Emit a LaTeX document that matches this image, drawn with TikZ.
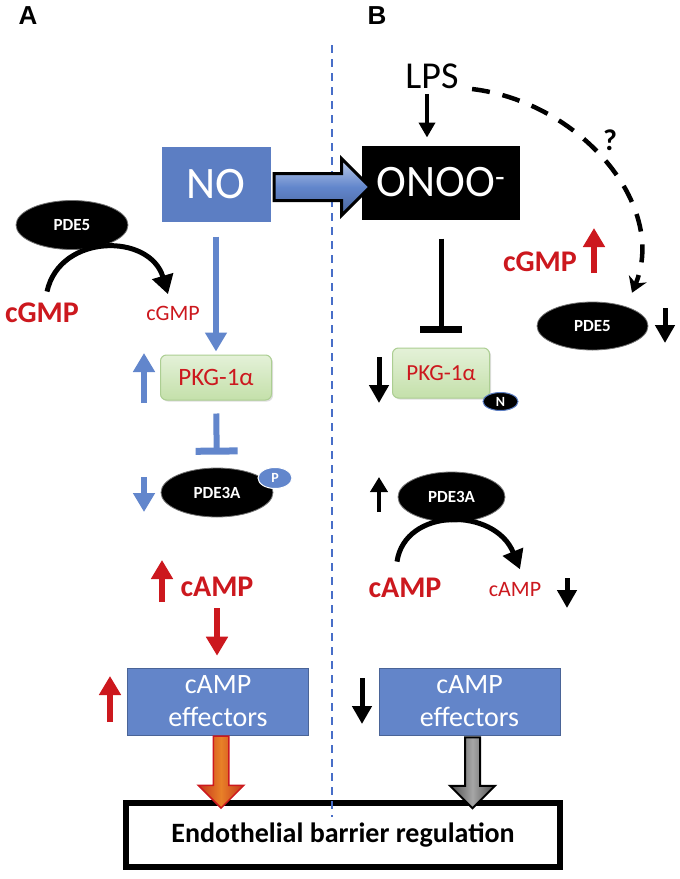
\documentclass[tikz,border=0pt]{standalone}
\usepackage{fontspec}
\setmainfont{Carlito}
\newfontfamily\panelfont{Liberation Sans}
\usetikzlibrary{shapes.geometric, shapes.arrows, arrows.meta, positioning, calc, shadows}
\definecolor{noblue}{RGB}{92,126,195}
\definecolor{arrowblue}{RGB}{98,134,204}
\definecolor{sigred}{RGB}{204,24,30}
\definecolor{pkgtop}{RGB}{228,241,216}
\definecolor{pkgbot}{RGB}{196,224,170}
\definecolor{pkgedge}{RGB}{172,206,146}
\definecolor{effblue}{RGB}{99,133,201}
\definecolor{divblue}{RGB}{72,110,200}
\definecolor{flowedge}{RGB}{196,52,28}
\definecolor{floworange}{RGB}{232,128,40}
\tikzset{
    panel/.style={font=\panelfont\bfseries\fontsize{26}{30}\selectfont},
    agent/.style={rectangle, draw=white, line width=3pt, text=white, inner sep=0pt, font=\fontsize{45}{50}\selectfont, drop shadow={opacity=0.3, shadow xshift=1.5pt, shadow yshift=-1.5pt}},
    trigger/.style={font=\fontsize{38}{42}\selectfont},
    query/.style={font=\bfseries\fontsize{30}{34}\selectfont},
    enzyme/.style={ellipse, draw=black!55, line width=0.8pt, fill=black, text=white, inner sep=0pt, font=\bfseries\fontsize{17}{20}\selectfont},
    kinase/.style={rectangle, rounded corners=6pt, draw=pkgedge, line width=1pt, top color=pkgtop, bottom color=pkgbot, text=sigred, inner sep=0pt, drop shadow={opacity=0.25, shadow xshift=1.5pt, shadow yshift=-1.5pt}},
    tag/.style={ellipse, line width=1pt, text=white, inner sep=0pt, font=\bfseries\fontsize{14}{16}\selectfont},
    cyclic big/.style={text=sigred, font=\bfseries\fontsize{30}{34}\selectfont},
    cyclic small/.style={text=sigred, font=\fontsize{22}{26}\selectfont},
    effector/.style={rectangle, draw=effblue!75!black, line width=0.6pt, fill=effblue, text=white, align=center, font=\fontsize{28}{33}\selectfont, minimum width=181pt, minimum height=67pt},
    outcome/.style={rectangle, draw=black, line width=6pt, fill=white, font=\bfseries\fontsize{28}{32}\selectfont, minimum width=434pt, minimum height=64pt, drop shadow={opacity=0.35, shadow xshift=3pt, shadow yshift=-3pt}},
    block flow/.style={single arrow, single arrow tip angle=90, anchor=tail},
    blue arrow/.style={draw=arrowblue, line width=6pt, -{Triangle[width=21pt, length=19pt]}},
    red arrow/.style={draw=sigred, line width=6pt, -{Triangle[width=21pt, length=19pt]}},
    black arrow/.style={draw=black, line width=5pt, -{Triangle[width=19pt, length=18pt]}},
    blue inhibit/.style={draw=arrowblue, line width=6pt, -{Bar[width=42pt, line width=7pt]}},
    black inhibit/.style={draw=black, line width=5pt, -{Bar[width=42pt, line width=7pt]}},
    turnover/.style={draw=black, line width=5pt, -{Triangle[width=21pt, length=19pt]}},
    maybe/.style={draw=black, line width=4.5pt, dash pattern=on 18pt off 13pt, -{Stealth[width=19pt, length=15pt]}},
    divider/.style={draw=divblue, line width=1.2pt, dash pattern=on 8pt off 6pt}
}

\begin{document}
\begin{tikzpicture}[x=1pt, y=-1pt]
    \useasboundingbox[fill=white] (0,0) rectangle (680,879);

    % Panels
    \node[panel] (pa) at (28,16) {A};
    \node[panel] (pb) at (377,16) {B};

    % Agents
    \node[agent, fill=noblue, minimum width=112pt, minimum height=78pt] (no) at (216,184) {NO};
    \node[agent, fill=black, minimum width=161pt, minimum height=77pt] (onoo) at (441,182.5) {ONOO\textsuperscript{-}};
    \node[trigger] (lps) at (432,76) {LPS};
    \node[query] (q) at (610,140) {?};

    % Panel A
    \node[enzyme, minimum width=112pt, minimum height=49pt] (pde5l) at (72,225) {PDE5};
    \node[cyclic big] (cgmpbig) at (42,313) {cGMP};
    \node[cyclic small] (cgmpsmall) at (173,313) {cGMP};
    \node[kinase, minimum width=111pt, minimum height=45pt, font=\fontsize{25}{28}\selectfont] (pkgl) at (216,377.5) {PKG-1α};
    \node[enzyme, minimum width=112pt, minimum height=49pt] (pde3al) at (217,492.5) {PDE3A};
    \node[tag, fill=arrowblue, draw=white, minimum width=34pt, minimum height=21pt] (pl) at (275,478) {P};
    \node[cyclic big] (campl) at (217,587) {cAMP};
    \node[effector] (effl) at (218,701.5) {cAMP\\effectors};

    % Panel B
    \node[cyclic big] (cgmpr) at (540,262) {cGMP};
    \node[enzyme, minimum width=111pt, minimum height=48pt] (pde5r) at (592.5,326) {PDE5};
    \node[kinase, minimum width=97pt, minimum height=50pt, font=\fontsize{23}{26}\selectfont] (pkgr) at (441,373) {PKG-1α};
    \node[tag, fill=black, draw=noblue, minimum width=35pt, minimum height=18pt] (nr) at (500.5,401.5) {N};
    \node[enzyme, minimum width=107pt, minimum height=50pt] (pde3ar) at (451.5,497) {PDE3A};
    \node[cyclic big] (campbr) at (405,588) {cAMP};
    \node[cyclic small] (campsr) at (515,590) {cAMP};
    \node[effector] (effr) at (469.5,701.5) {cAMP\\effectors};

    % Outcome
    \node[outcome] (barrier) at (343,835) {Endothelial barrier regulation};
    \draw[divider] (332,45) -- (332,817);

    % Links
    \node[block flow, draw=black, line width=3pt, top color=arrowblue!40!white, bottom color=noblue!80!black, middle color=arrowblue, inner sep=12pt, single arrow head extend=15pt, minimum height=96pt] (nitro) at ($(no.east)+(-1,3)$) {};
    \draw[black arrow, line width=4pt, -{Triangle[width=16pt, length=15pt]}, shorten <=2pt, shorten >=5pt] ([xshift=-5pt]lps.south) -- ([xshift=-5pt]lps.south |- onoo.north);
    \draw[maybe] ($(lps.south east)+(10,-3)$) .. controls (580,102) and (668,205) .. ($(pde5r.north east)+(0,-16)$);

    \draw[blue arrow, shorten <=12pt, shorten >=3pt] (no) -- (pkgl);
    \draw[blue inhibit, shorten <=13pt, shorten >=13pt] (pkgl) -- (pde3al);
    \draw[turnover] ($(cgmpbig.north)+(5,-8)$) .. controls (60,233) and (150,233) .. ($(cgmpsmall.north)+(-5,-8)$);
    \draw[red arrow, shorten <=8pt, shorten >=12pt] (campl.south) -- (campl.south |- effl.north);

    \draw[black inhibit, shorten <=16pt, shorten >=15pt] (onoo) -- (pkgr);
    \draw[turnover] ($(campbr.north)+(-8,-13)$) .. controls (405,507) and (495,507) .. ($(campsr.north)+(5,-10)$);

    \node[block flow, shape border rotate=270, draw=sigred, line width=1.5pt, left color=flowedge, right color=flowedge, middle color=floworange, inner sep=7pt, single arrow head extend=15pt, minimum height=72pt] (upflow) at ($(effl.south)+(3,0)$) {};
    \node[block flow, shape border rotate=270, draw=black, line width=2pt, left color=black!70, right color=black!70, middle color=black!35, inner sep=6.5pt, single arrow head extend=15pt, minimum height=71pt] (downflow) at ($(effr.south)+(3,1)$) {};

    % Levels
    \draw[blue arrow] (144,403) -- (144,353);
    \draw[blue arrow] (144,477) -- (144,512);
    \draw[red arrow] (162,602) -- (162,560);
    \draw[red arrow] (110,722) -- (110,676);
    \draw[red arrow] (594,273) -- (594,228);
    \draw[black arrow] (665,308) -- (665,343);
    \draw[black arrow] (379,357) -- (379,403);
    \draw[black arrow, line width=4.5pt, -{Triangle[width=17pt, length=15pt]}] (379,512) -- (379,477);
    \draw[black arrow] (567,578) -- (567,608);
    \draw[black arrow] (362,678) -- (362,724);
\end{tikzpicture}
\end{document}
